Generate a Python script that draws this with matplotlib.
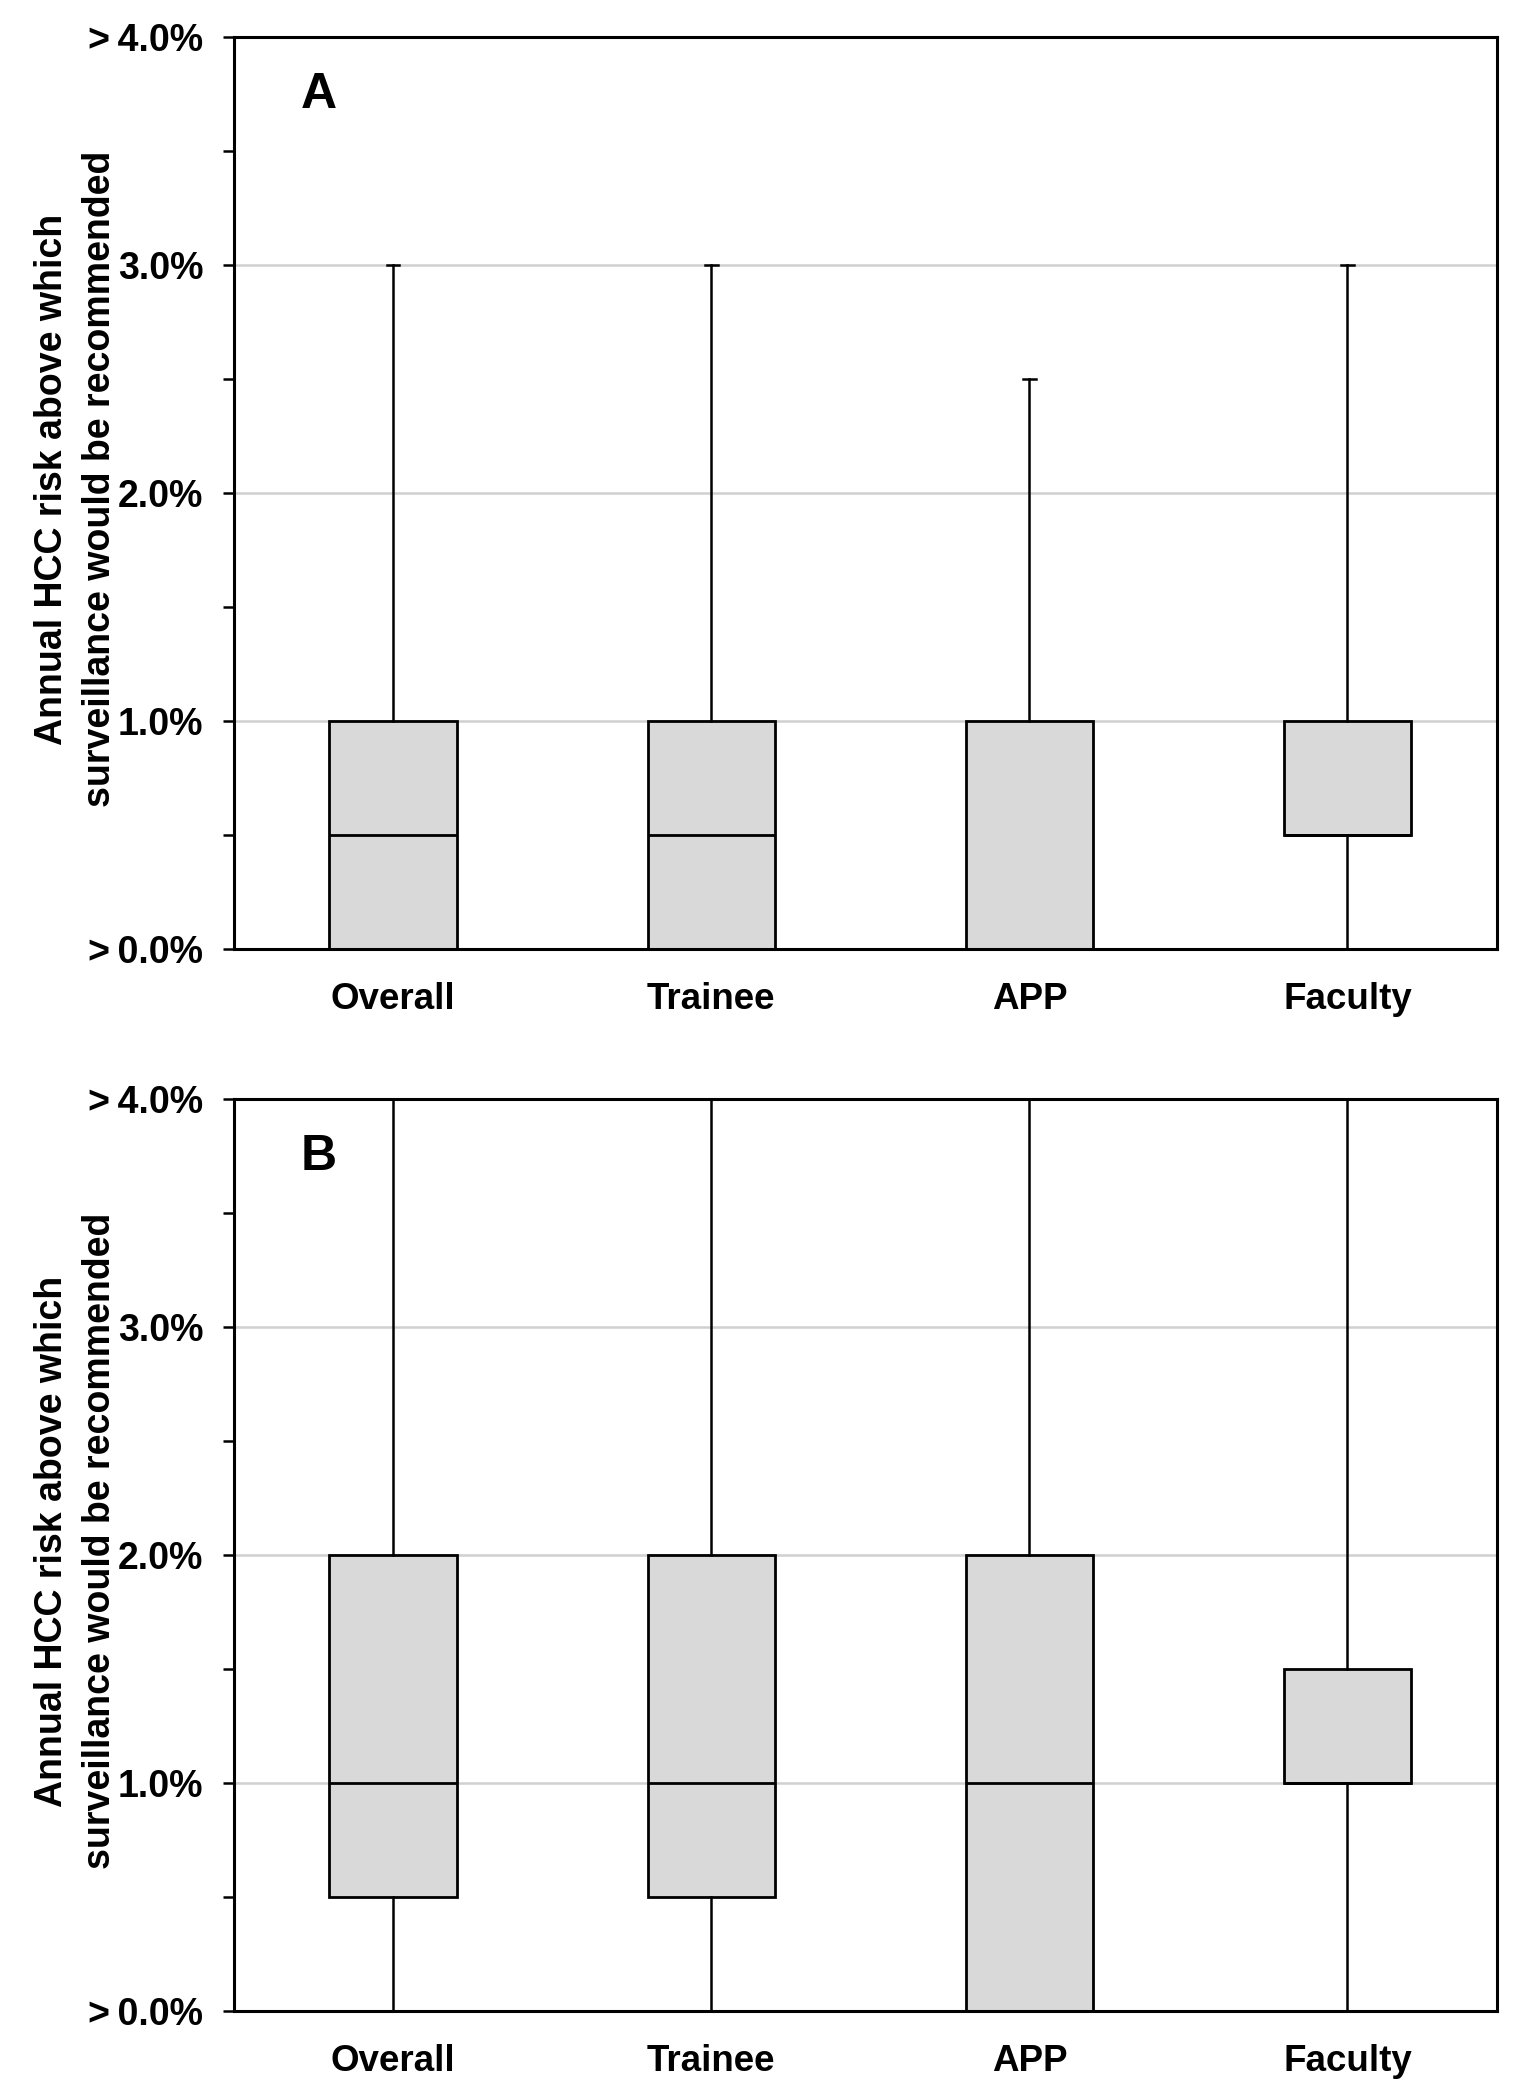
import matplotlib
matplotlib.use("Agg")
import matplotlib.pyplot as plt
from matplotlib.ticker import MultipleLocator

plt.rcParams['font.family'] = ['Liberation Sans', 'DejaVu Sans']
plt.rcParams['font.weight'] = 'bold'

categories = ["Overall", "Trainee", "APP", "Faculty"]

# Panel A (values in %)
a_whislo = [0.0, 0.0, 0.0, 0.0]
a_q1     = [0.0, 0.0, 0.0, 0.5]
a_med    = [0.5, 0.5, 0.0, 0.5]
a_q3     = [1.0, 1.0, 1.0, 1.0]
a_whishi = [3.0, 3.0, 2.5, 3.0]

# Panel B (values in %)
b_whislo = [0.0, 0.0, 0.0, 0.0]
b_q1     = [0.5, 0.5, 0.0, 1.0]
b_med    = [1.0, 1.0, 1.0, 1.0]
b_q3     = [2.0, 2.0, 2.0, 1.5]
b_whishi = [4.0, 4.0, 4.0, 4.0]

yticks = [0, 1, 2, 3, 4]
ytick_labels = [">\u20090.0%", "1.0%", "2.0%", "3.0%", ">\u20094.0%"]
panel_letters = ["A", "B"]
ylabel = "Annual HCC risk above which\nsurveillance would be recommended"

W, H = 1525, 2100
fig = plt.figure(figsize=(W / 100, H / 100), dpi=100)

def px_axes(left, top, right, bottom):
    return fig.add_axes([left / W, 1 - bottom / H, (right - left) / W, (bottom - top) / H])

axA = px_axes(234, 37, 1497, 949)
axB = px_axes(234, 1099, 1497, 2011)

panels = [
    (axA, a_whislo, a_q1, a_med, a_q3, a_whishi),
    (axB, b_whislo, b_q1, b_med, b_q3, b_whishi),
]

box_color = "#d9d9d9"
for i, (ax, wlo, q1, med, q3, whi) in enumerate(panels):
    stats = []
    for j, cat in enumerate(categories):
        stats.append(dict(label=cat, whislo=wlo[j], q1=q1[j], med=med[j],
                          q3=q3[j], whishi=whi[j], fliers=[]))
    ax.bxp(stats, positions=range(len(categories)), widths=0.40,
           patch_artist=True, showfliers=False, capwidths=0.04,
           boxprops=dict(facecolor=box_color, edgecolor="black", linewidth=2.0),
           medianprops=dict(color="black", linewidth=2.0),
           whiskerprops=dict(color="black", linewidth=1.8),
           capprops=dict(color="black", linewidth=1.8))
    ax.set_xlim(-0.5, 3.47)
    ax.set_ylim(0, 4)
    ax.set_yticks(yticks)
    ax.set_yticklabels(ytick_labels)
    ax.yaxis.set_minor_locator(MultipleLocator(0.5))
    ax.set_xticks(range(len(categories)))
    ax.set_xticklabels(categories)
    ax.tick_params(axis='y', which='major', direction='out', length=8, width=1.8,
                   labelsize=27, pad=14)
    ax.tick_params(axis='y', which='minor', direction='out', length=8, width=1.8)
    ax.tick_params(axis='x', length=0, labelsize=26.5, pad=24)
    for lbl in ax.get_xticklabels() + ax.get_yticklabels():
        lbl.set_fontweight('bold')
    ax.grid(axis='y', color="#d0d0d0", linewidth=1.8)
    ax.set_axisbelow(True)
    for s in ax.spines.values():
        s.set_linewidth(2.2)
        s.set_color("black")
    ax.text(0.067, 0.936, panel_letters[i], transform=ax.transAxes,
            fontsize=36, fontweight='bold', ha='center', va='center')
    ax.text(-0.125, 0.515, ylabel, transform=ax.transAxes, rotation=90,
            fontsize=27, fontweight='bold', ha='center', va='center',
            multialignment='center', linespacing=1.45)

fig.savefig("out.png", dpi=100, facecolor="white")
